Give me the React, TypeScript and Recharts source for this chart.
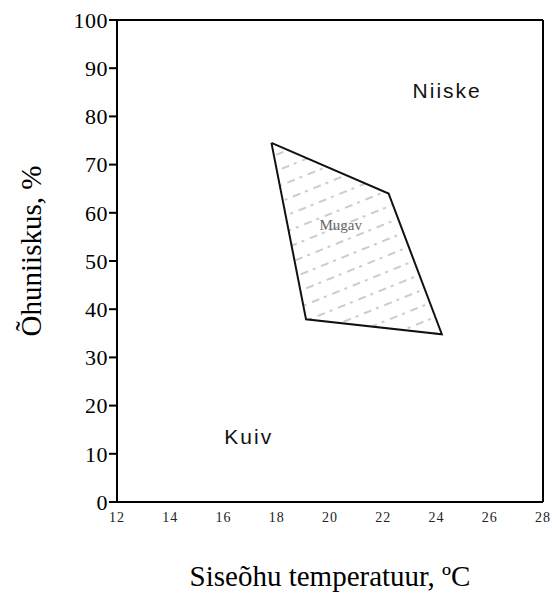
import {
  Area,
  ComposedChart,
  ReferenceDot,
  ReferenceLine,
  XAxis,
  YAxis,
} from "recharts";

// mugavustsooni nurgad (kinnine kontuur, viimane = esimene)
const zoneTemp = [17.8, 22.2, 24.2, 19.1, 17.8];
const zoneHum = [74.5, 64, 34.8, 37.9, 74.5];

// tsoonide nimed ja asukohad
const labelNames = ["Niiske", "Mugav", "Kuiv"];
const labelTemp = [24.4, 20.4, 16.95];
const labelHum = [85.4, 57.5, 13.5];
const labelSize = [21, 15, 21];

const tempTicks = [12, 14, 16, 18, 20, 22, 24, 26, 28];
const humTicks = [0, 10, 20, 30, 40, 50, 60, 70, 80, 90, 100];

const zone = zoneTemp.map((t, i) => ({ t, rh: zoneHum[i] }));

const serif = "'Liberation Serif', 'DejaVu Serif', serif";
const sans = "'Liberation Sans', 'DejaVu Sans', sans-serif";

// niiskuse telje numbrid, Times-laadne kiri
function HumTick(props: any) {
  const { x, y, payload } = props;
  return (
    <text
      x={x}
      y={y}
      dy="0.35em"
      textAnchor="end"
      fill="#000"
      fontSize={22}
      fontFamily={serif}
      letterSpacing={0.5}
    >
      {payload.value}
    </text>
  );
}

function TempTick(props: any) {
  const { x, y, payload } = props;
  return (
    <text
      x={x}
      y={y}
      dy="0.71em"
      textAnchor="middle"
      fill="#222"
      fontSize={14}
      fontFamily={serif}
      letterSpacing={1}
    >
      {payload.value}
    </text>
  );
}

export default function App() {
  return (
    <div style={{ position: "absolute", left: 0, top: 0, background: "#fff", fontFamily: serif }}>
      <ComposedChart
        width={552}
        height={599}
        data={zone}
        margin={{ top: 20, right: 9, bottom: 0, left: 0 }}
      >
        <defs>
          <pattern
            id="hatch"
            width="22"
            height="15"
            patternUnits="userSpaceOnUse"
            patternTransform="rotate(-22)"
          >
            <line x1="0" y1="7" x2="22" y2="7" stroke="#999" strokeWidth={1.1} strokeDasharray="8 5 3 6" />
          </pattern>
        </defs>
        <XAxis
          type="number"
          dataKey="t"
          domain={[12, 28]}
          ticks={tempTicks}
          allowDataOverflow
          height={97}
          stroke="#000"
          strokeWidth={2}
          tickSize={0}
          tickMargin={10}
          tick={<TempTick />}
          label={{
            value: "Siseõhu temperatuur, ºC",
            position: "center",
            dx: 0,
            dy: 25,
            style: { fill: "#000", fontSize: 29, fontFamily: serif },
          }}
        />
        <YAxis
          type="number"
          domain={[0, 100]}
          ticks={humTicks}
          width={117}
          stroke="#000"
          strokeWidth={2}
          tickSize={8}
          tickMargin={1}
          tick={<HumTick />}
          label={{
            value: "Õhuniiskus, %",
            angle: -90,
            position: "center",
            dx: -28,
            dy: -10,
            style: { fill: "#000", fontSize: 29, fontFamily: serif, textAnchor: "middle" },
          }}
        />
        <ReferenceLine y={100} stroke="#000" strokeWidth={2} />
        <ReferenceLine x={28} stroke="#000" strokeWidth={2} />
        <Area
          type="linear"
          dataKey="rh"
          stroke="#111"
          strokeWidth={2}
          fill="url(#hatch)"
          fillOpacity={1}
          dot={false}
          activeDot={false}
          isAnimationActive={false}
        />
        {labelNames.map((name, i) => (
          <ReferenceDot
            key={name}
            x={labelTemp[i]}
            y={labelHum[i]}
            r={0}
            fill="none"
            stroke="none"
            label={{
              value: name,
              position: "center",
              fill: i === 1 ? "#666" : "#111",
              fontSize: labelSize[i],
              letterSpacing: i === 1 ? 0 : 2,
              style: { fontFamily: i === 1 ? serif : sans },
            }}
          />
        ))}
      </ComposedChart>
    </div>
  );
}
